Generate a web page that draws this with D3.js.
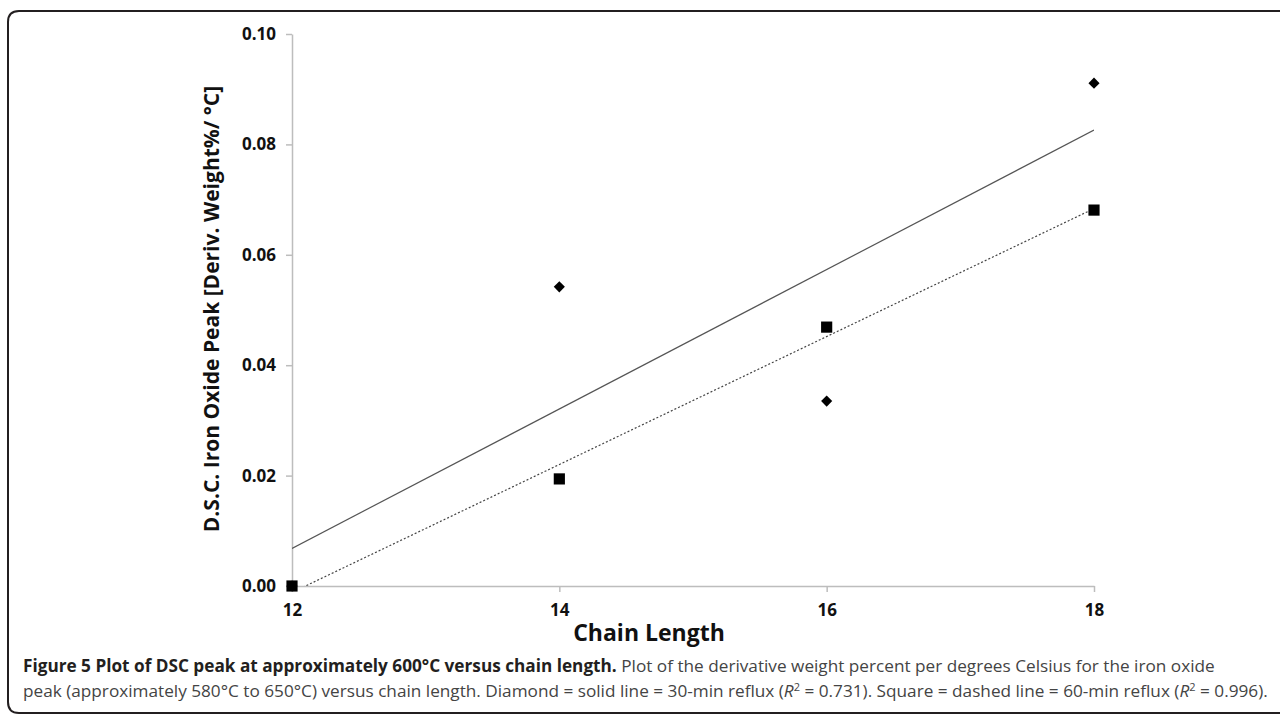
<!DOCTYPE html>
<html>
<head>
<meta charset="utf-8">
<script src="https://cdn.jsdelivr.net/npm/d3@7"></script>
<style>
  body { margin: 0; background: #fff; }
  svg { display: block; }
</style>
</head>
<body>
<svg id="viz" width="1280" height="715"></svg>
<script>
// chain lengths and DSC peak values
var chain = [12, 14, 16, 18];
var reflux30 = [0.0, 0.0542, 0.0335, 0.0911];   // diamonds, solid fit
var reflux60 = [0.0, 0.0194, 0.0469, 0.0681];   // squares, dashed fit
var yTicks = [0.00, 0.02, 0.04, 0.06, 0.08, 0.10];
var xTicks = [12, 14, 16, 18];

var width = 1280, height = 715;
var margin = {top: 34, right: 186, bottom: 129, left: 292};

var svg = d3.select("#viz");

// frame with rounded corners on the left, running off the right edge
svg.append("path")
    .attr("d", "M1290,11 H19 Q8,11 8,22 V702 Q8,713 19,713 H1290")
    .attr("fill", "none")
    .attr("stroke", "#231f20")
    .attr("stroke-width", 2);

var x = d3.scaleLinear()
    .domain([12, 18])
    .range([margin.left, width - margin.right]);

var y = d3.scaleLinear()
    .domain([0, 0.10])
    .range([height - margin.bottom, margin.top]);

var tickFont = "bold 17px 'Open Sans', sans-serif";

var xAxis = g => g
    .attr("transform", `translate(0,${y(0)})`)
    .call(d3.axisBottom(x).tickValues(xTicks).tickFormat(d3.format("d"))
        .tickSize(6).tickSizeOuter(0).tickPadding(12))
    .call(g => g.selectAll("line, .domain").attr("stroke", "#bdbdbd").attr("stroke-width", 1.5))
    .call(g => g.selectAll("text").style("font", tickFont).attr("fill", "#111"));

var yAxis = g => g
    .attr("transform", `translate(${x(12)},0)`)
    .call(d3.axisLeft(y).tickValues(yTicks).tickFormat(d3.format(".2f"))
        .tickSize(6).tickSizeOuter(0).tickPadding(10))
    .call(g => g.selectAll("line, .domain").attr("stroke", "#bdbdbd").attr("stroke-width", 1.5))
    .call(g => g.selectAll("text").style("font", tickFont).attr("fill", "#111"));

svg.append("g").call(xAxis);
svg.append("g").call(yAxis);

// least squares fit, drawn across the plot and clipped to it
function fit(xs, ys) {
    var mx = d3.mean(xs), my = d3.mean(ys);
    var num = d3.sum(xs, (v, i) => (v - mx) * (ys[i] - my));
    var den = d3.sum(xs, v => (v - mx) * (v - mx));
    var b = num / den;
    return v => my + b * (v - mx);
}

svg.append("clipPath").attr("id", "plot")
    .append("rect")
    .attr("x", x(12)).attr("y", y(0.10))
    .attr("width", x(18) - x(12)).attr("height", y(0) - y(0.10));

var f30 = fit(chain, reflux30);
var f60 = fit(chain, reflux60);

svg.append("line")
    .attr("clip-path", "url(#plot)")
    .attr("x1", x(12)).attr("y1", y(f30(12)))
    .attr("x2", x(18)).attr("y2", y(f30(18)))
    .attr("stroke", "#555")
    .attr("stroke-width", 1.2);

svg.append("line")
    .attr("clip-path", "url(#plot)")
    .attr("x1", x(12)).attr("y1", y(f60(12)))
    .attr("x2", x(18)).attr("y2", y(f60(18)))
    .attr("stroke", "#444")
    .attr("stroke-width", 1.2)
    .attr("stroke-dasharray", "2,2");

svg.append("g")
    .selectAll("path")
    .data(chain)
    .enter().append("path")
    .attr("transform", (d, i) => `translate(${x(d)},${y(reflux30[i])}) rotate(45)`)
    .attr("d", d3.symbol().type(d3.symbolSquare).size(62))
    .attr("fill", "#000");

svg.append("g")
    .selectAll("path")
    .data(chain)
    .enter().append("path")
    .attr("transform", (d, i) => `translate(${x(d)},${y(reflux60[i])})`)
    .attr("d", d3.symbol().type(d3.symbolSquare).size(125))
    .attr("fill", "#000");

// axis titles
svg.append("text")
    .attr("x", 649)
    .attr("y", 641)
    .attr("text-anchor", "middle")
    .style("font", "bold 23px 'Open Sans', sans-serif")
    .attr("fill", "#111")
    .text("Chain Length");

svg.append("text")
    .attr("transform", `translate(219,309) rotate(-90)`)
    .attr("text-anchor", "middle")
    .style("font", "bold 21px 'Open Sans', sans-serif")
    .attr("fill", "#111")
    .text("D.S.C. Iron Oxide Peak [Deriv. Weight%/ °C]");

// caption
var capFont = "17.2px 'Open Sans', sans-serif";

var cap1 = svg.append("text")
    .attr("x", 23).attr("y", 672)
    .style("font", capFont)
    .attr("fill", "#444");
cap1.append("tspan")
    .style("font-weight", "bold")
    .attr("fill", "#231f20")
    .text("Figure 5 Plot of DSC peak at approximately 600°C versus chain length.");
cap1.append("tspan")
    .text(" Plot of the derivative weight percent per degrees Celsius for the iron oxide");

var cap2 = svg.append("text")
    .attr("x", 23).attr("y", 697)
    .style("font", capFont)
    .attr("fill", "#444");
cap2.append("tspan").text("peak (approximately 580°C to 650°C) versus chain length. Diamond = solid line = 30-min reflux (");
cap2.append("tspan").style("font-style", "italic").text("R");
cap2.append("tspan").attr("dy", -6).style("font-size", "11px").text("2");
cap2.append("tspan").attr("dy", 6).text(" = 0.731). Square = dashed line = 60-min reflux (");
cap2.append("tspan").style("font-style", "italic").text("R");
cap2.append("tspan").attr("dy", -6).style("font-size", "11px").text("2");
cap2.append("tspan").attr("dy", 6).text(" = 0.996).");
</script>
</body>
</html>
